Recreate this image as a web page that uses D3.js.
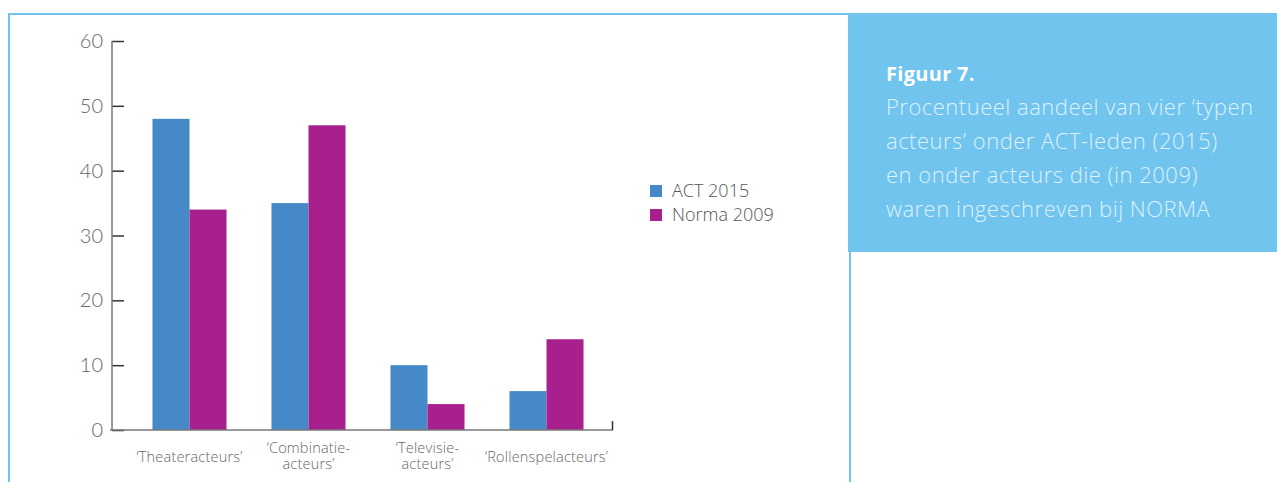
<!DOCTYPE html>
<html>
<head>
<meta charset="utf-8">
<script src="https://cdn.jsdelivr.net/npm/d3@7"></script>
<style>
  body { margin: 0; background: #fff; }
  svg { display: block; }
  text { font-family: "Open Sans", Lato, sans-serif; }
</style>
</head>
<body>
<script>
'use strict';

// chart data
var categories = [
    ['‘Theateracteurs’'],
    ['‘Combinatie-', 'acteurs’'],
    ['‘Televisie-', 'acteurs’'],
    ['‘Rollenspelacteurs’']
];
var seriesNames = ['ACT 2015', 'Norma 2009'];
var act2015 = [48, 35, 10, 6];
var norma2009 = [34, 47, 4, 14];
var yTicks = [0, 10, 20, 30, 40, 50, 60];

var captionTitle = 'Figuur 7.';
var captionLines = [
    'Procentueel aandeel van vier ‘typen',
    'acteurs’ onder ACT-leden (2015)',
    'en onder acteurs die (in 2009)',
    'waren ingeschreven bij NORMA'
];

var colors = ['#4689c8', '#a8208e'];
var frameBlue = '#70c4ed';

var width = 1277, height = 482;

var svg = d3.select('body').append('svg')
    .attr('width', width)
    .attr('height', height);

// frame round the chart
svg.append('rect')
    .attr('x', 9).attr('y', 14)
    .attr('width', 841).attr('height', 500)
    .attr('fill', 'none')
    .attr('stroke', frameBlue)
    .attr('stroke-width', 2);

// caption panel
svg.append('rect')
    .attr('x', 848).attr('y', 13)
    .attr('width', width - 848).attr('height', 239)
    .attr('fill', frameBlue);

svg.append('text')
    .attr('x', 886).attr('y', 81)
    .attr('fill', '#fff')
    .style('font-size', '20px')
    .style('font-weight', 700)
    .style('letter-spacing', '0.3px')
    .text(captionTitle);

svg.selectAll('.cap')
    .data(captionLines)
    .enter()
    .append('text')
    .attr('class', 'cap')
    .attr('x', 886)
    .attr('y', function (d, i) { return 115 + i * 34; })
    .attr('fill', '#dff1fb')
    .style('font-size', '22px')
    .style('font-weight', 300)
    .style('letter-spacing', '0.5px')
    .text(function (d) { return d; });

// scales
var y = d3.scaleLinear().domain([0, 60]).range([430, 41]);

var x0 = d3.scaleBand()
    .domain(d3.range(categories.length))
    .range([130, 606])
    .paddingInner(0.378)
    .paddingOuter(0.189);

var x1 = d3.scaleBand()
    .domain(d3.range(seriesNames.length))
    .range([0, x0.bandwidth()]);

var g = svg.append('g');

// bars
var rows = categories.map(function (c, i) {
    return [act2015[i], norma2009[i]];
});

g.selectAll('.group')
    .data(rows)
    .enter()
    .append('g')
    .attr('class', 'group')
    .attr('transform', function (d, i) { return 'translate(' + x0(i) + ',0)'; })
    .selectAll('rect')
    .data(function (d) { return d; })
    .enter()
    .append('rect')
    .attr('x', function (d, j) { return x1(j); })
    .attr('y', function (d) { return y(d); })
    .attr('width', x1.bandwidth())
    .attr('height', function (d) { return y(0) - y(d); })
    .attr('fill', function (d, j) { return colors[j]; });

// y axis
var yAxis = d3.axisRight(y).tickValues(yTicks).tickSize(12).tickFormat('');
var ya = g.append('g')
    .attr('transform', 'translate(112,0)')
    .call(yAxis);
ya.select('.domain').remove();
ya.selectAll('.tick line').attr('stroke', '#333').attr('stroke-width', 1.5);

g.append('line')
    .attr('x1', 112).attr('x2', 112)
    .attr('y1', y(60)).attr('y2', y(0))
    .attr('stroke', '#777').attr('stroke-width', 1.5);

g.selectAll('.ylab')
    .data(yTicks)
    .enter()
    .append('text')
    .attr('class', 'ylab')
    .attr('x', 103)
    .attr('y', function (d) { return y(d); })
    .attr('dy', '0.35em')
    .attr('text-anchor', 'end')
    .attr('fill', '#666')
    .style('font-size', '20px')
    .style('font-weight', 300)
    .style('font-family', 'Lato, sans-serif')
    .text(function (d) { return d; });

// x axis
g.append('line')
    .attr('x1', 110).attr('x2', 613)
    .attr('y1', y(0)).attr('y2', y(0))
    .attr('stroke', '#777').attr('stroke-width', 1.5);
g.append('line')
    .attr('x1', 612.5).attr('x2', 612.5)
    .attr('y1', y(0) - 9).attr('y2', y(0))
    .attr('stroke', '#333').attr('stroke-width', 1.5);

// x labels, one text per line
g.selectAll('.xlab')
    .data(categories)
    .enter()
    .append('g')
    .attr('class', 'xlab')
    .each(function (d, i) {
        var cx = x0(i) + x0.bandwidth() / 2;
        var top = d.length === 1 ? 462 : 453;
        var grp = d3.select(this);
        d.forEach(function (line, k) {
            grp.append('text')
                .attr('x', cx)
                .attr('y', top + k * 16)
                .attr('text-anchor', 'middle')
                .attr('fill', '#666')
                .style('font-size', '14.5px')
                .style('font-weight', 300)
                .style('letter-spacing', '0.2px')
                .text(line);
        });
    });

// legend
var legend = g.selectAll('.legend')
    .data(seriesNames)
    .enter()
    .append('g')
    .attr('class', 'legend')
    .attr('transform', function (d, i) { return 'translate(650,' + (185 + i * 24) + ')'; });

legend.append('rect')
    .attr('width', 12).attr('height', 12)
    .attr('fill', function (d, i) { return colors[i]; });

legend.append('text')
    .attr('x', 22).attr('y', 12)
    .attr('fill', '#555')
    .style('font-size', '18px')
    .style('font-weight', 300)
    .text(function (d) { return d; });
</script>
</body>
</html>
